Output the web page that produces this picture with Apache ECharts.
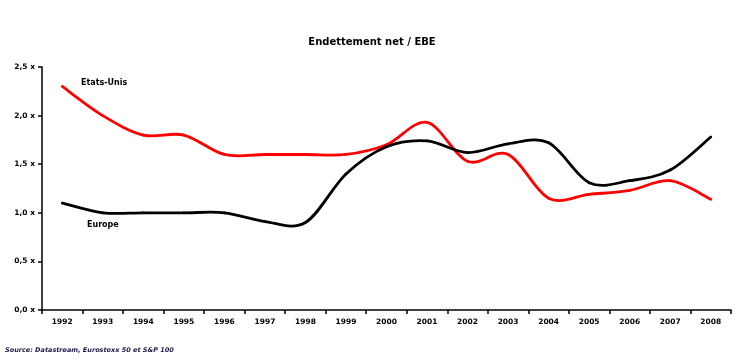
<!DOCTYPE html>
<html><head><meta charset="utf-8">
<script src="https://cdn.jsdelivr.net/npm/echarts@6/dist/echarts.min.js"></script>
<style>html,body{margin:0;padding:0;background:#fff}#c{width:744px;height:362px}</style>
</head><body><div id="c"></div>
<script>
const years = ['1992','1993','1994','1995','1996','1997','1998','1999','2000','2001','2002','2003','2004','2005','2006','2007','2008'];
const europe = [1.1, 1.0, 1.0, 1.0, 1.0, 0.91, 0.9, 1.4, 1.68, 1.74, 1.62, 1.71, 1.72, 1.31, 1.33, 1.44, 1.78];
const etatsUnis = [2.3, 2.0, 1.8, 1.8, 1.6, 1.6, 1.6, 1.6, 1.7, 1.93, 1.53, 1.6, 1.15, 1.19, 1.23, 1.33, 1.14];
const yTickLabels = ['0,0 x','0,5 x','1,0 x','1,5 x','2,0 x','2,5 x'];

const FF = '"DejaVu Sans", Verdana, sans-serif';
const chart = echarts.init(document.getElementById('c'), null, {renderer:'canvas'});
const lblFont = {fontFamily:FF, fontWeight:'bold', fontSize:7.5, color:'#000'};

// Smoothed line (Excel-like Catmull-Rom bezier) drawn through the chart's own scales
function smoothSeries(name, values, color) {
  return {
    name: name, type:'custom', coordinateSystem:'cartesian2d',
    data: values.map((v, i) => [i, v]),
    encode:{x:0, y:1},
    renderItem: function(params, api) {
      const i = params.dataIndex, n = values.length;
      if (i >= n - 1) return null;
      const P = k => api.coord([Math.max(0, Math.min(n - 1, k)), values[Math.max(0, Math.min(n - 1, k))]]);
      const p0 = P(i - 1), p1 = P(i), p2 = P(i + 1), p3 = P(i + 2);
      return {
        type:'bezierCurve',
        shape:{
          x1:p1[0], y1:p1[1], x2:p2[0], y2:p2[1],
          cpx1:p1[0] + (p2[0] - p0[0]) / 6, cpy1:p1[1] + (p2[1] - p0[1]) / 6,
          cpx2:p2[0] - (p3[0] - p1[0]) / 6, cpy2:p2[1] - (p3[1] - p1[1]) / 6
        },
        style:{stroke:color, lineWidth:2.8, fill:null, lineCap:'round'}
      };
    }
  };
}

chart.setOption({
  animation:false,
  backgroundColor:'#fff',
  title:{text:'Endettement net / EBE', left:'center', top:32,
    textStyle:{fontFamily:FF, fontWeight:'bold', fontSize:10, color:'#000'}},
  grid:{left:42, right:13, top:67, bottom:52},
  xAxis:{type:'category', data:years, boundaryGap:true,
    axisLine:{lineStyle:{color:'#000', width:1.5}},
    axisTick:{show:true, length:4, lineStyle:{color:'#000', width:1.5}},
    axisLabel:Object.assign({margin:8}, lblFont)},
  yAxis:{type:'value', min:0, max:2.5, interval:0.5,
    splitLine:{show:false},
    axisLine:{show:true, lineStyle:{color:'#000', width:1.5}},
    axisTick:{show:true, length:4, lineStyle:{color:'#000', width:1.5}},
    axisLabel:Object.assign({margin:7, formatter:(v)=>yTickLabels[Math.round(v/0.5)]}, lblFont)},
  series:[
    smoothSeries('Etats-Unis', etatsUnis, '#ff0000'),
    smoothSeries('Europe', europe, '#000000')
  ],
  graphic:[
    {type:'text', left:81, top:79, style:{text:'Etats-Unis', font:'bold 8px "DejaVu Sans", sans-serif', fill:'#000'}},
    {type:'text', left:87, top:221, style:{text:'Europe', font:'bold 8px "DejaVu Sans", sans-serif', fill:'#000'}},
    {type:'text', left:5, top:347, style:{text:'Source: Datastream, Eurostoxx 50 et S&P 100', font:'italic bold 6.5px "DejaVu Sans", sans-serif', fill:'#1a1a4a'}}
  ]
});
</script></body></html>
